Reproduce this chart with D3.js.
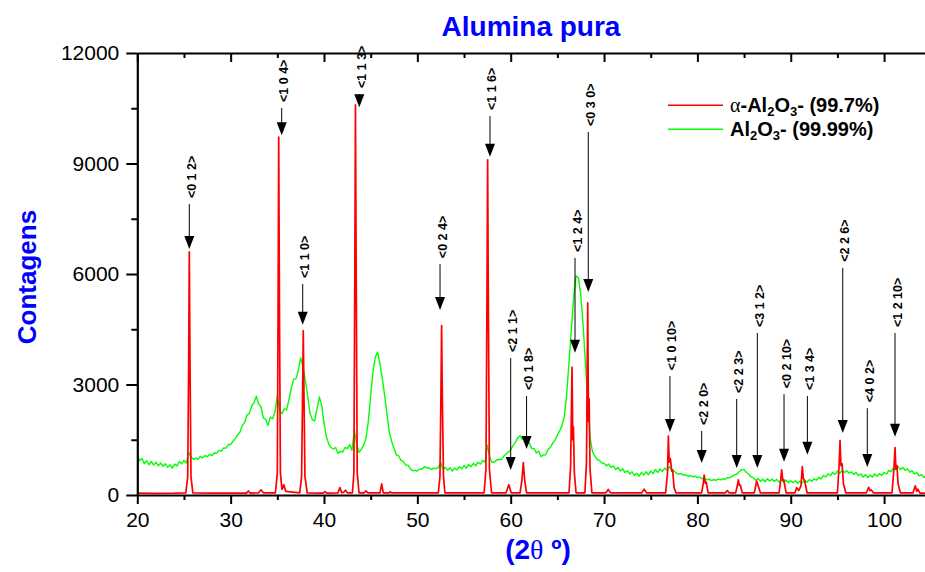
<!DOCTYPE html>
<html>
<head>
<meta charset="utf-8">
<script src="https://cdn.jsdelivr.net/npm/d3@7"></script>
<style>
  html, body { margin: 0; padding: 0; background: #fff; }
  svg { display: block; font-family: "Liberation Sans", Arial, sans-serif; }
</style>
</head>
<body>
<svg id="chart" width="925" height="572"></svg>
<script>
// ---------------- data ----------------
const chartTitle = "Alumina pura";
const yTitle = "Contagens";
const xMajorTicks = [20, 30, 40, 50, 60, 70, 80, 90, 100];
const xMinorTicks = [25, 35, 45, 55, 65, 75, 85, 95];
const yMajorTicks = [0, 3000, 6000, 9000, 12000];
const yMinorTicks = [1500, 4500, 7500, 10500];
const xDomain = [20, 104.5];
const yDomain = [0, 12000];

// α-Al2O3 (99.7%) pattern: [2θ, counts]
const redPattern = [
  [20,50],[22,45],[24,50],[25.2,60],[25.4,500],[25.5,3500],[25.57,6600],[25.65,3500],[25.75,500],[25.95,60],
  [28,50],[31.7,50],[31.9,110],[32.1,50],[33.0,60],[33.25,140],[33.5,60],
  [34.8,60],[35.0,600],[35.08,5000],[35.15,9720],[35.23,5000],[35.33,600],[35.5,150],[35.7,280],[35.9,100],
  [37.4,60],[37.6,500],[37.7,2600],[37.78,4460],[37.86,2600],[37.96,500],[38.2,60],
  [39.9,50],[40.1,90],[40.3,50],[41.5,60],[41.7,200],[41.9,60],[42.1,70],[42.3,130],[42.5,60],
  [43.05,60],[43.2,600],[43.3,6000],[43.37,10590],[43.45,6000],[43.56,600],[43.75,60],
  [44.3,60],[44.5,110],[44.7,60],[46.0,60],[46.18,300],[46.35,60],[47,60],[47.1,90],[47.2,60],
  [52.25,60],[52.42,500],[52.52,2600],[52.6,4600],[52.68,2600],[52.8,500],[52.95,60],
  [57.15,60],[57.35,700],[57.45,5000],[57.53,9100],[57.61,5000],[57.72,700],[57.95,60],
  [59.5,60],[59.8,280],[60.05,60],
  [61.0,60],[61.2,400],[61.35,880],[61.5,400],[61.7,60],
  [66.25,60],[66.42,800],[66.57,3470],[66.65,1500],[66.72,1850],[66.82,600],[67.0,60],
  [67.95,60],[68.12,900],[68.25,5220],[68.33,2000],[68.4,2620],[68.5,700],[68.7,60],
  [70.2,60],[70.45,150],[70.7,60],
  [74.05,60],[74.3,160],[74.55,60],
  [76.6,60],[76.8,600],[76.89,1600],[76.98,900],[77.1,990],[77.25,650],[77.35,680],[77.5,200],[77.7,60],
  [80.45,60],[80.62,300],[80.72,540],[80.85,320],[80.95,350],[81.15,60],
  [83.0,60],[83.2,120],[83.4,60],
  [84.1,60],[84.28,250],[84.38,410],[84.5,260],[84.6,270],[84.8,60],
  [86.1,60],[86.25,250],[86.35,380],[86.5,260],[86.75,60],
  [88.75,60],[88.92,400],[89.03,680],[89.15,400],[89.25,420],[89.5,60],
  [90.45,60],[90.64,200],[90.85,120],[91.1,250],[91.24,770],[91.35,450],[91.5,380],[91.75,60],
  [95.0,60],[95.18,800],[95.28,1480],[95.38,800],[95.5,850],[95.65,300],[95.9,60],
  [98.1,60],[98.35,210],[98.5,120],[98.62,140],[98.85,60],
  [100.85,60],[101.05,700],[101.17,1290],[101.27,700],[101.38,800],[101.5,300],[101.75,60],
  [103.1,60],[103.34,250],[103.5,100],[103.62,160],[103.85,50],[104.5,50]
];

// Al2O3 (99.99%) pattern: counts sampled every 0.25° from 20°
const greenStart = 20, greenStep = 0.25;
const greenCounts = [
  1090, 930, 990, 850, 930, 820, 910, 810, 890, 790, 870, 780, 850, 750, 820, 730, 840, 790, 910, 850,
  940, 870, 1150, 1040, 970, 1000, 970, 1050, 1010, 1070, 1040, 1100, 1070, 1140, 1130, 1210, 1190, 1280, 1270, 1370,
  1370, 1460, 1530, 1630, 1710, 1890, 1970, 2170, 2210, 2410, 2510, 2680, 2470, 2390, 2090, 2060, 1890, 2110, 2070, 2260,
  2700, 2290, 2210, 2340, 2310, 2590, 2910, 3140, 3160, 3390, 3720, 3490, 3110, 2690, 2210, 2040, 2010, 2340, 2660, 2440,
  1960, 1590, 1390, 1290, 1250, 1290, 1130, 1190, 1160, 1290, 1260, 1370, 1210, 1750, 1390, 1160, 1240, 1360, 1540, 2000,
  2700, 3350, 3750, 3880, 3550, 3150, 2700, 2200, 1700, 1450, 1260, 1090, 1060, 940, 910, 810, 810, 710, 660, 670,
  650, 710, 700, 770, 730, 740, 690, 730, 710, 750, 880, 690, 750, 670, 740, 650, 730, 680, 770, 710,
  800, 730, 830, 770, 860, 790, 890, 840, 940, 890, 1350, 1040, 890, 890, 950, 970, 960, 1050, 1110, 1170,
  1230, 1340, 1430, 1550, 1610, 1510, 1570, 1420, 1410, 1260, 1260, 1140, 1190, 1040, 1090, 1090, 1240, 1290, 1410, 1490,
  1630, 1740, 1890, 2140, 2750, 3600, 4500, 5400, 5950, 5900, 5450, 4650, 3600, 2600, 1560, 1190, 1060, 970, 940, 870,
  860, 790, 840, 750, 790, 690, 750, 650, 710, 610, 660, 570, 630, 530, 590, 510, 610, 540, 630, 550,
  650, 580, 690, 610, 710, 640, 730, 670, 770, 680, 650, 590, 570, 580, 540, 550, 510, 530, 490, 510,
  470, 490, 440, 460, 410, 430, 390, 420, 400, 430, 410, 440, 430, 470, 470, 510, 550, 570, 640, 690,
  690, 610, 570, 490, 470, 400, 450, 370, 430, 360, 440, 380, 430, 370, 420, 350, 410, 340, 400, 330,
  390, 330, 390, 320, 380, 330, 400, 350, 420, 370, 440, 400, 480, 440, 530, 490, 570, 530, 610, 560,
  650, 590, 670, 610, 660, 590, 630, 560, 610, 530, 570, 490, 550, 470, 540, 490, 570, 510, 580, 530,
  610, 570, 670, 630, 740, 690, 770, 690, 750, 670, 710, 620, 660, 570, 610, 520, 550, 480, 510
];

// reflections: label, 2θ of arrow, counts at label base, counts at arrow tip
const peakLabels = ["<0 1 2>","<1 0 4>","<1 1 3>","<1 1 0>","<0 2 4>","<1 1 6>","<0 3 0>","<1 2 4>","<2 1 1>","<0 1 8>",
                    "<1 0 10>","<2 2 0>","<2 2 3>","<3 1 2>","<0 2 10>","<1 3 4>","<2 2 6>","<4 0 2>","<1 2 10>"];
const peakPos    = [25.57, 35.47, 43.78, 37.72, 52.43, 57.78, 68.31, 66.89, 60.0, 61.7,
                    77.06, 80.46, 84.21, 86.42, 89.28, 91.78, 95.57, 98.2, 101.17];
const labelBase  = [8060, 10670, 11050, 5890, 6430, 10450, 10020, 6600, 3880, 2850,
                    3390, 1900, 2770, 4560, 2900, 2850, 6330, 2520, 4560];
const arrowTip   = [6680, 9770, 10530, 4620, 5020, 9180, 5510, 3860, 680, 1250,
                    1710, 870, 730, 730, 900, 1090, 1680, 760, 1580];

const legendNames = ["α-Al2O3- (99.7%)", "Al2O3- (99.99%)"];
const seriesColors = ["#ff0000", "#00ff00"];

// ---------------- drawing ----------------
const svg = d3.select("#chart");
const x = d3.scaleLinear().domain(xDomain).range([137.3, 926.1]);
const y = d3.scaleLinear().domain(yDomain).range([495, 53]);

const greenPattern = greenCounts.map((c, i) => [greenStart + i * greenStep, c]);
const line = d3.line().x(d => x(d[0])).y(d => y(d[1]));

svg.append("path").datum(greenPattern)
  .attr("d", line).attr("fill", "none")
  .attr("stroke", seriesColors[1]).attr("stroke-width", 1.4).attr("stroke-linejoin", "round");

svg.append("path").datum(redPattern)
  .attr("d", line).attr("fill", "none")
  .attr("stroke", seriesColors[0]).attr("stroke-width", 1.7).attr("stroke-linejoin", "round");

// axes
function styleAxis(g) {
  g.selectAll("path.domain").attr("stroke", "#000").attr("stroke-width", 2.2);
  g.selectAll(".tick line").attr("stroke", "#000").attr("stroke-width", 2);
  g.selectAll(".tick text").attr("fill", "#000").attr("font-size", "21px")
    .attr("font-family", "'Liberation Sans', Arial, sans-serif");
}

const gx = svg.append("g").attr("transform", "translate(0,495)")
  .call(d3.axisBottom(x).tickValues(xMajorTicks).tickFormat(d3.format("d")).tickSize(9).tickSizeOuter(0).tickPadding(8));
styleAxis(gx);
const gxm = svg.append("g").attr("transform", "translate(0,495)")
  .call(d3.axisBottom(x).tickValues(xMinorTicks).tickFormat("").tickSize(5));
gxm.select("path.domain").remove(); styleAxis(gxm);

const gt = svg.append("g").attr("transform", "translate(0,53)")
  .call(d3.axisTop(x).tickValues(xMajorTicks).tickFormat("").tickSize(-9).tickSizeOuter(0));
styleAxis(gt);
const gtm = svg.append("g").attr("transform", "translate(0,53)")
  .call(d3.axisTop(x).tickValues(xMinorTicks).tickFormat("").tickSize(-5));
gtm.select("path.domain").remove(); styleAxis(gtm);

const gy = svg.append("g").attr("transform", "translate(137.3,0)")
  .call(d3.axisLeft(y).tickValues(yMajorTicks).tickFormat(d3.format("d")).tickSize(11).tickSizeOuter(0).tickPadding(7));
styleAxis(gy);
const gym = svg.append("g").attr("transform", "translate(137.3,0)")
  .call(d3.axisLeft(y).tickValues(yMinorTicks).tickFormat("").tickSize(6));
gym.select("path.domain").remove(); styleAxis(gym);

// annotations
const ann = svg.append("g");
peakLabels.forEach((lab, i) => {
  const px = x(peakPos[i]);
  const pb = y(labelBase[i]);
  const pt = y(arrowTip[i]);
  ann.append("line")
    .attr("x1", px).attr("x2", px).attr("y1", pb + 6).attr("y2", pt - 10)
    .attr("stroke", "#000").attr("stroke-width", 1);
  ann.append("path")
    .attr("d", `M${px - 5},${pt - 13} L${px + 5},${pt - 13} L${px},${pt} Z`)
    .attr("fill", "#000");
  ann.append("text")
    .attr("transform", `translate(${px + 6.5},${pb}) rotate(-90)`)
    .attr("text-anchor", "start")
    .attr("font-size", "12.5px").attr("font-weight", "bold").attr("fill", "#000")
    .text(lab);
});

// titles
svg.append("text").attr("x", 531).attr("y", 36).attr("text-anchor", "middle")
  .attr("font-size", "28px").attr("font-weight", "bold").attr("fill", "#0000ff")
  .text(chartTitle);

svg.append("text").attr("transform", "translate(36,277) rotate(-90)").attr("text-anchor", "middle")
  .attr("font-size", "26px").attr("font-weight", "bold").attr("fill", "#0000ff")
  .text(yTitle);

const xt = svg.append("text").attr("x", 538).attr("y", 559).attr("text-anchor", "middle")
  .attr("font-size", "28px").attr("font-weight", "bold").attr("fill", "#0000ff");
xt.append("tspan").text("(2");
xt.append("tspan").attr("font-weight", "normal").attr("font-family", "'Liberation Serif', serif").text("θ");
xt.append("tspan").text(" º)");

// legend
const legY = [105.3, 129.3];
legendNames.forEach((name, i) => {
  svg.append("line").attr("x1", 668).attr("x2", 723).attr("y1", legY[i]).attr("y2", legY[i])
    .attr("stroke", seriesColors[i]).attr("stroke-width", 1.6);
  const t = svg.append("text").attr("x", 730).attr("y", legY[i] + 7)
    .attr("font-size", "20px").attr("font-weight", "bold").attr("fill", "#000");
  const parts = name.match(/^(α?)(-?)Al2O3(.*)$/);
  if (parts[1]) t.append("tspan").attr("font-weight", "normal").attr("font-family", "'Liberation Serif', serif").text(parts[1]);
  t.append("tspan").text(parts[2] + "Al");
  t.append("tspan").attr("font-size", "13px").attr("dy", 4).text("2");
  t.append("tspan").attr("dy", -4).text("O");
  t.append("tspan").attr("font-size", "13px").attr("dy", 4).text("3");
  t.append("tspan").attr("dy", -4).text(parts[3]);
});
</script>
</body>
</html>
